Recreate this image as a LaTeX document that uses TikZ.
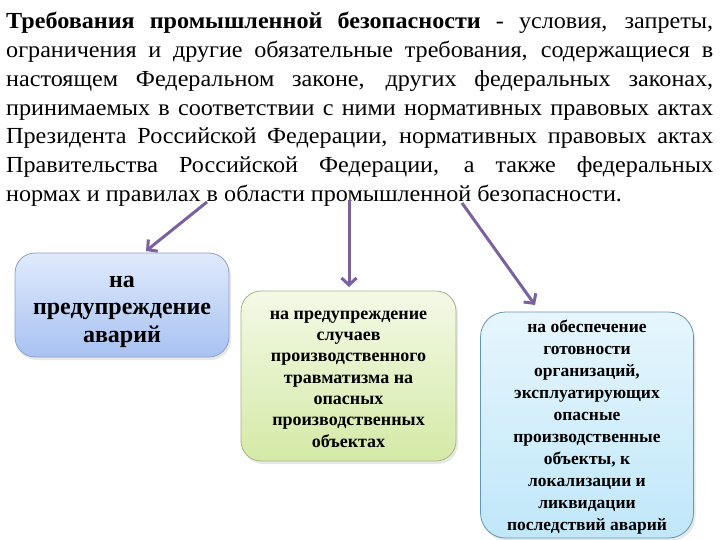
\documentclass[tikz,border=0pt]{standalone}
\usepackage{fontspec}
\setmainfont{Liberation Serif}
\newfontfamily\titlefont[FakeStretch=1.05]{Liberation Serif}
\usetikzlibrary{arrows.meta,shadows}
\definecolor{arrcol}{RGB}{122,98,160}
\definecolor{b1top}{RGB}{224,234,252}
\definecolor{b1bot}{RGB}{168,194,242}
\definecolor{b1line}{RGB}{140,160,196}
\definecolor{b2top}{RGB}{244,249,230}
\definecolor{b2bot}{RGB}{212,234,166}
\definecolor{b2line}{RGB}{168,180,130}
\definecolor{b3top}{RGB}{230,246,253}
\definecolor{b3bot}{RGB}{192,231,249}
\definecolor{b3line}{RGB}{100,150,180}
\tikzset{
  arrline/.style={draw=arrcol, line width=3pt, -{Straight Barb[length=7pt,width=15pt,line width=3pt]}},
  boxbase/.style={rounded corners=20pt, line width=0.8pt,
     drop shadow={opacity=0.18, shadow xshift=2pt, shadow yshift=-3pt}},
  boxa/.style={boxbase, draw=b1line, top color=b1top, bottom color=b1bot},
  boxb/.style={boxbase, draw=b2line, top color=b2top, bottom color=b2bot},
  boxc/.style={boxbase, rounded corners=25pt, draw=b3line, top color=b3top, bottom color=b3bot},
  boxtext/.style={align=center, inner sep=0pt, anchor=base},
}
\begin{document}
\begin{tikzpicture}[x=1pt,y=-1pt]
\useasboundingbox (0,0) rectangle (720,540);
\node[anchor=north west, inner sep=0pt, text width=707pt, align=justify,
      font=\titlefont\fontsize{23}{28.8}\selectfont] (title) at (6,12)
{\textbf{Требования промышленной безопасности} - условия, запреты,\linebreak
ограничения и другие обязательные требования, содержащиеся в\linebreak
настоящем Федеральном законе, других федеральных законах,\linebreak
принимаемых в соответствии с ними нормативных правовых актах\linebreak
Президента Российской Федерации, нормативных правовых актах\linebreak
Правительства Российской Федерации, а также федеральных\linebreak
нормах и правилах в области промышленной безопасности.};

\node[boxa, minimum width=214pt, minimum height=104pt] (b1) at (122,305) {};
\node[boxtext, font=\bfseries\fontsize{24}{27.5}\selectfont] (b1t) at (122,342)
{на\\предупреждение\\аварий};
\node[boxb, minimum width=215pt, minimum height=170pt] (b2) at (348.5,376) {};
\node[boxtext, font=\bfseries\fontsize{18}{21.3}\selectfont] (b2t) at (348.5,447)
{на предупреждение\\случаев\\производственного\\травматизма на\\опасных\\производственных\\объектах};
\node[boxc, minimum width=213pt, minimum height=226pt] (b3) at (587,425) {};
\node[boxtext, font=\bfseries\fontsize{17.5}{21.9}\selectfont] (b3t) at (587,530)
{на обеспечение\\готовности\\организаций,\\эксплуатирующих\\опасные\\производственные\\объекты, к\\локализации и\\ликвидации\\последствий аварий};

\coordinate (s1) at (207,202);
\coordinate (t1) at (146,251);
\coordinate (s2) at (349,200);
\coordinate (t2) at (349,287);
\coordinate (s3) at (462,203);
\coordinate (t3) at (535,305);
\draw[arrline] (s1) -- (t1);
\draw[arrline] (s2) -- (t2);
\draw[arrline] (s3) -- (t3);
\end{tikzpicture}
\end{document}
